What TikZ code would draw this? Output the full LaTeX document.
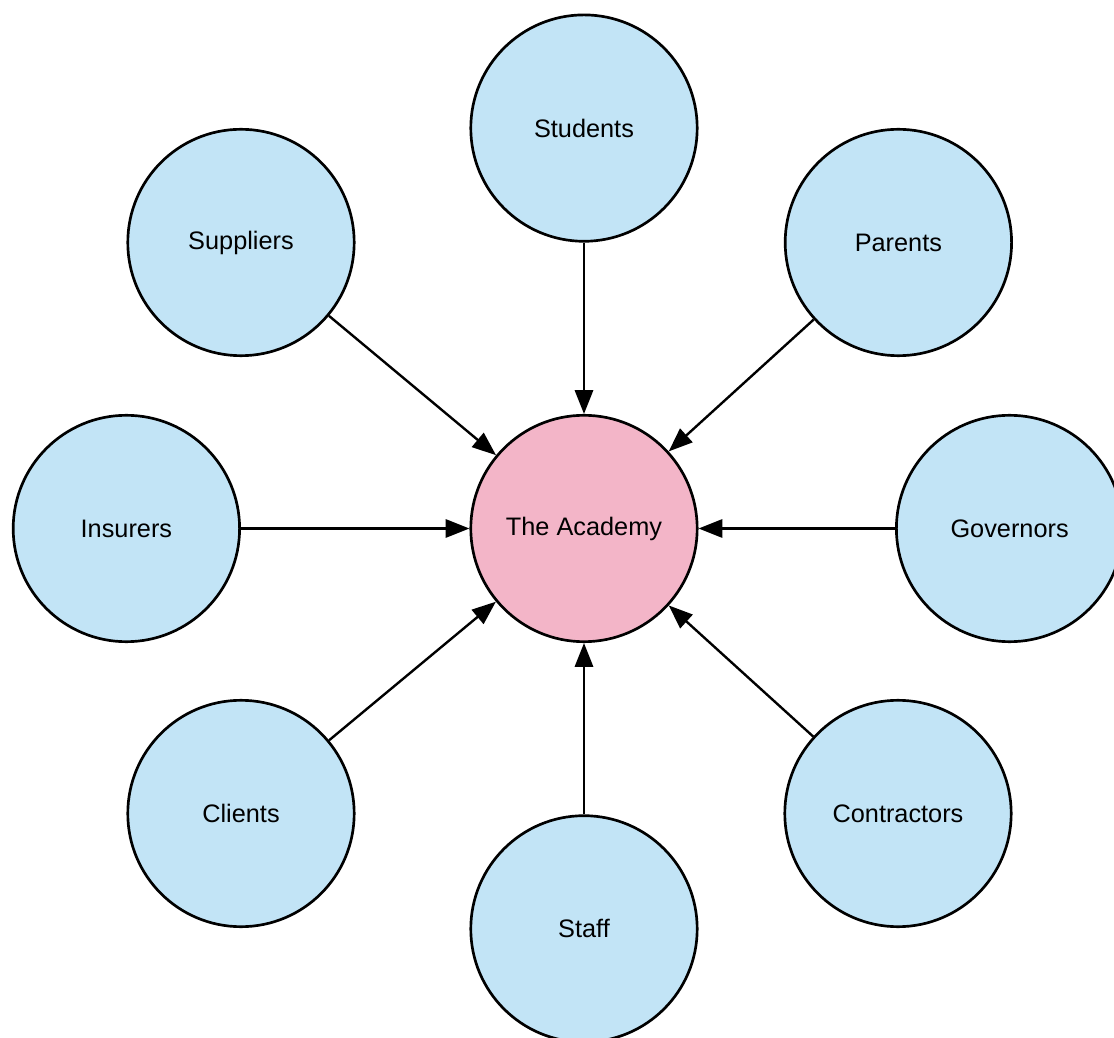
\documentclass[tikz,border=0pt]{standalone}
\usepackage{fontspec}
\setmainfont{Liberation Sans}
\usetikzlibrary{arrows.meta}
\usepackage{xcolor}
\definecolor{stakeblue}{RGB}{194,228,246}
\definecolor{academypink}{RGB}{243,181,200}

\begin{document}
\begin{tikzpicture}[
    every node/.style={font=\fontsize{18}{22}\selectfont},
    stakeholder/.style={circle, draw, line width=1.9pt, fill=stakeblue, minimum size=5.66cm, inner sep=0pt},
    academy/.style={circle, draw, line width=1.9pt, fill=academypink, minimum size=5.66cm, inner sep=0pt},
    link/.style={line width=1.7pt, -{Triangle[length=17pt,width=13pt]}}]

% Frame
\clip (-14.6,-12.7375) rectangle (13.25,13.2125);

% Centre
\node[academy] (academy) at (0,0) {The Academy};

% Stakeholders
\node[stakeholder] (students) at (0,10.01) {Students};
\node[stakeholder] (parents) at (7.86,7.15) {Parents};
\node[stakeholder] (suppliers) at (-8.575,7.15) {Suppliers};
\node[stakeholder] (insurers) at (-11.44,0) {Insurers};
\node[stakeholder] (governors) at (10.64,0) {Governors};
\node[stakeholder] (clients) at (-8.575,-7.125) {Clients};
\node[stakeholder] (staff) at (0,-10.01) {Staff};
\node[stakeholder] (contractors) at (7.85,-7.125) {Contractors};

% Arrows
\draw[link] (students) -- (academy);
\draw[link] (parents) -- (academy);
\draw[link] (suppliers) -- (academy);
\draw[link] (insurers) -- (academy);
\draw[link] (governors) -- (academy);
\draw[link] (clients) -- (academy);
\draw[link] (staff) -- (academy);
\draw[link] (contractors) -- (academy);

\end{tikzpicture}
\end{document}
